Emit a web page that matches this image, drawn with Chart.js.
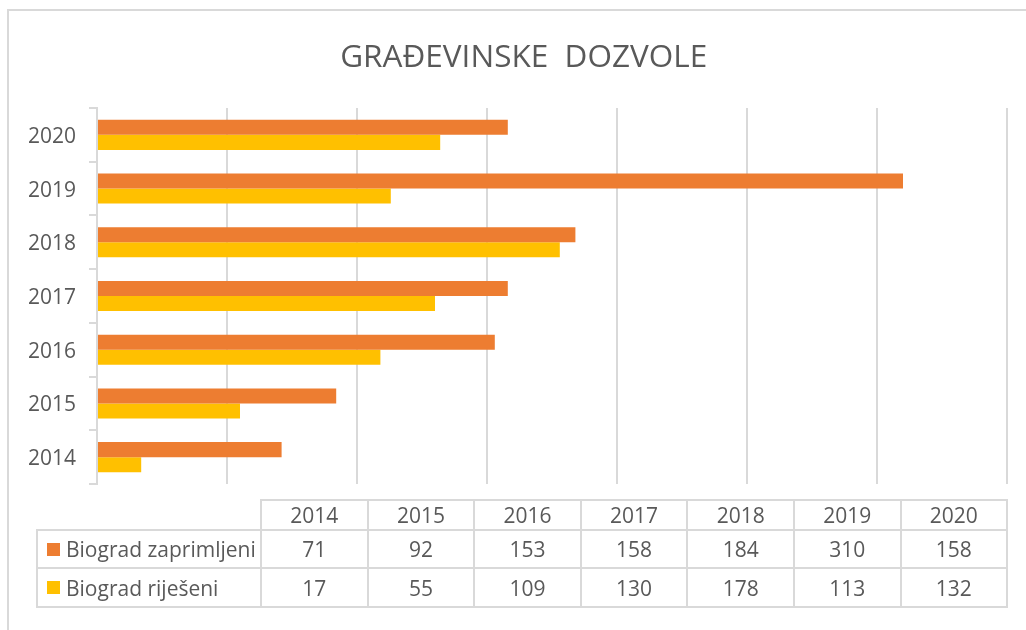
<!DOCTYPE html>
<html>
<head>
<meta charset="utf-8">
<script src="https://cdn.jsdelivr.net/npm/chart.js@4.4.1/dist/chart.umd.min.js"></script>
<style>
html,body{margin:0;padding:0;background:#fff;}
#wrap{position:relative;width:1026px;height:630px;overflow:hidden;font-family:"Open Sans",sans-serif;}
#frame{position:absolute;left:7px;top:9px;width:1040px;height:640px;border-left:2px solid #d9d9d9;border-top:2px solid #d9d9d9;box-sizing:border-box;}
#c{position:absolute;left:0;top:0;}
#tbl{position:absolute;left:36px;top:499px;border-collapse:collapse;table-layout:fixed;color:#595959;font-size:21px;width:970px;}
#tbl td{border:2px solid #d9d9d9;text-align:center;padding:0;white-space:nowrap;overflow:hidden;}
#tbl td.blank{border-top:none;border-left:none;}
#tbl td.lab{text-align:left;padding-left:9px;}
#tbl .sq{display:inline-block;width:13px;height:13px;margin-right:6px;vertical-align:middle;position:relative;top:-2px;}
</style>
</head>
<body>
<div id="wrap">
  <div id="frame"></div>
  <canvas id="c" width="1026" height="630"></canvas>
  <table id="tbl"></table>
</div>
<script>
// ---- data ----
const chartTitle = 'GRAĐEVINSKE  DOZVOLE';
const years = ['2014', '2015', '2016', '2017', '2018', '2019', '2020'];
const seriesNames = ['Biograd zaprimljeni', 'Biograd riješeni'];
const zaprimljeni = [71, 92, 153, 158, 184, 310, 158];
const rijeseni = [17, 55, 109, 130, 178, 113, 132];
const valueMin = 0;
const valueMax = 350;
const valueStep = 50;

const COLOR_Z = '#ED7D31';
const COLOR_R = '#FFC000';
const TEXT = '#595959';
const GRID = '#d9d9d9';
const FONT = 'Open Sans';

// centre the title block over the frame rather than the full canvas
const titleShift = {
  id: 'titleShift',
  afterLayout(chart) {
    const t = chart.titleBlock;
    if (t) { t.left = 40.4; t.right = chart.chartArea.right; }
  }
};

new Chart(document.getElementById('c'), {
  type: 'bar',
  data: {
    labels: years,
    datasets: [
      { label: seriesNames[0], data: zaprimljeni, backgroundColor: COLOR_Z, categoryPercentage: 0.56, barPercentage: 1 },
      { label: seriesNames[1], data: rijeseni, backgroundColor: COLOR_R, categoryPercentage: 0.56, barPercentage: 1 }
    ]
  },
  plugins: [titleShift],
  options: {
    indexAxis: 'y',
    responsive: false,
    animation: false,
    layout: { padding: { left: 0, right: 19, top: 0, bottom: 146 } },
    plugins: {
      legend: { display: false },
      tooltip: { enabled: false },
      title: {
        display: true,
        text: chartTitle,
        color: TEXT,
        font: { family: FONT, size: 31.5, weight: 'normal' },
        padding: { top: 39, bottom: 31.2 }
      }
    },
    scales: {
      x: {
        min: valueMin, max: valueMax,
        ticks: { display: false, stepSize: valueStep },
        grid: { color: GRID, lineWidth: 2, drawTicks: false },
        border: { display: false },
        afterFit: s => { s.height = 0; }
      },
      y: {
        reverse: true,
        ticks: { color: TEXT, font: { family: FONT, size: 21 }, padding: 13, labelOffset: 2 },
        grid: { drawOnChartArea: false, color: GRID, lineWidth: 2, tickLength: 8 },
        border: { color: GRID, width: 2 },
        afterFit: s => { s.width = 97; }
      }
    }
  }
});

// ---- data table below the chart ----
const tbl = document.getElementById('tbl');
let html = '<colgroup><col style="width:224px">' + years.map(() => '<col style="width:106.6px">').join('') + '</colgroup>';
html += '<tr style="height:29px"><td class="blank"></td>' + years.map(y => '<td>' + y + '</td>').join('') + '</tr>';
const rows = [[seriesNames[0], zaprimljeni, COLOR_Z], [seriesNames[1], rijeseni, COLOR_R]];
rows.forEach((r, i) => {
  html += '<tr style="height:' + (i === 0 ? 38 : 39) + 'px"><td class="lab"><span class="sq" style="background:' + r[2] + '"></span>' + r[0] + '</td>' +
    r[1].map(v => '<td>' + v + '</td>').join('') + '</tr>';
});
tbl.innerHTML = html;
</script>
</body>
</html>
